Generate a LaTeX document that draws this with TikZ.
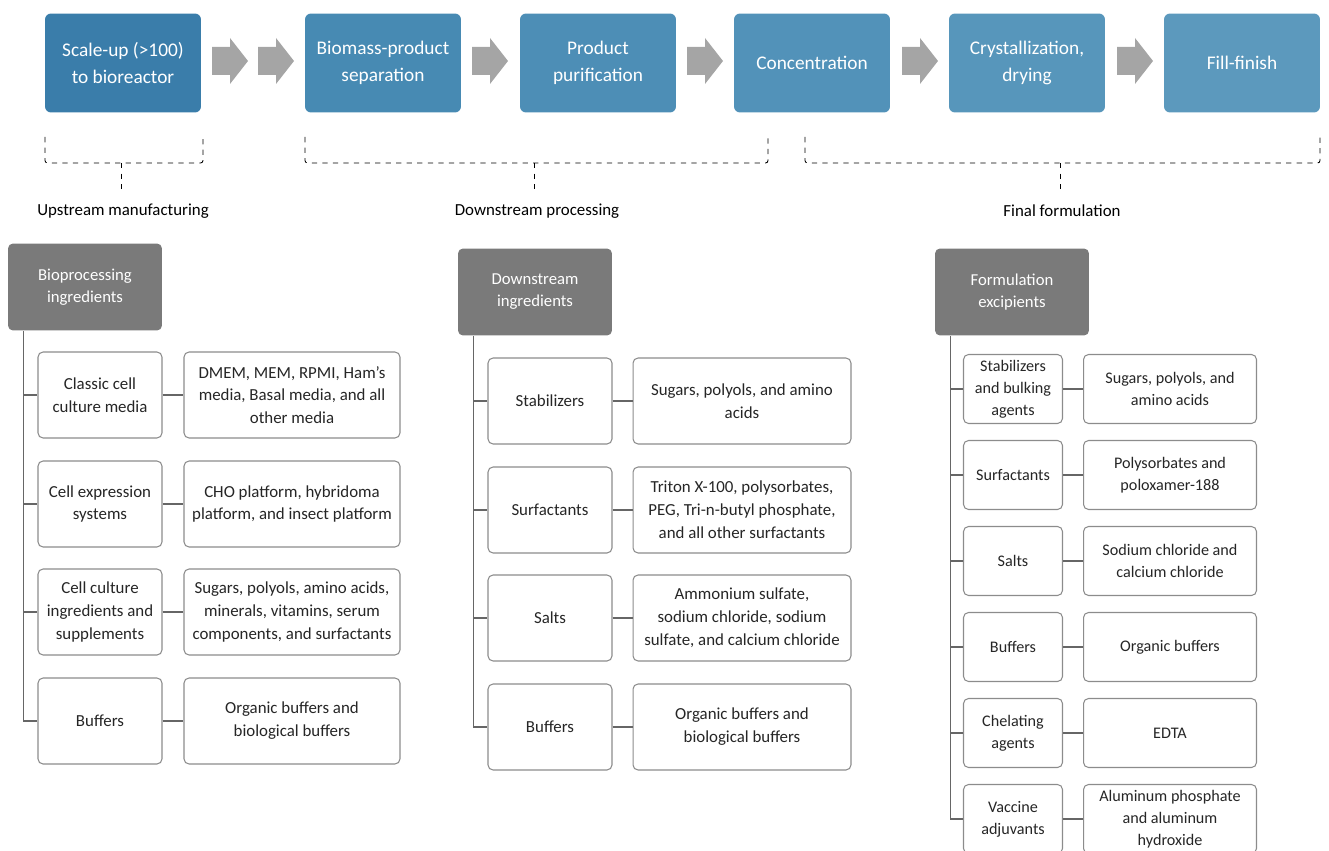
\documentclass[tikz,border=0pt]{standalone}
\usepackage{fontspec}
\setmainfont{Carlito}
\usepackage{xcolor}
\usepackage{tikz}
\definecolor{stepA}{HTML}{3A7DAA}
\definecolor{stepB}{HTML}{478AB3}
\definecolor{stepC}{HTML}{4D8EB6}
\definecolor{stepD}{HTML}{5292B9}
\definecolor{stepE}{HTML}{5796BB}
\definecolor{stepF}{HTML}{5C99BD}
\definecolor{headgray}{HTML}{7A7A7A}
\definecolor{arrowgray}{HTML}{A5A5A5}
\definecolor{linegray}{HTML}{8C8C8C}
\definecolor{treegray}{HTML}{666666}
\definecolor{textdark}{HTML}{262626}

\begin{document}
\begin{tikzpicture}[x=0.02cm,y=-0.02cm]
\tikzstyle{every node}+=[inner sep=0pt]
\tikzstyle{stage}=[rounded corners=0.12cm, minimum width=3.12cm, minimum height=1.98cm, text=white, align=center, font=\fontsize{11}{15.3}\selectfont]
\tikzstyle{head}=[fill=headgray, rounded corners=0.1cm, minimum width=3.08cm, minimum height=1.74cm, text=white, align=center, font=\fontsize{9.5}{12.6}\selectfont]
\tikzstyle{item}=[draw=linegray, fill=white, line width=0.6pt, rounded corners=0.1cm, minimum height=1.72cm, align=center, text=textdark, font=\fontsize{9.6}{13}\selectfont]
\tikzstyle{itemsm}=[item, minimum height=1.38cm, font=\fontsize{9.2}{12.4}\selectfont]
\tikzstyle{tree}=[draw=treegray, line width=0.7pt]
\tikzstyle{brace}=[dashed, line width=0.5pt, rounded corners=0.05cm]
\tikzstyle{phase}=[font=\fontsize{9.6}{11}\selectfont]
\useasboundingbox (0,0) rectangle (1329,851);
\clip (0,0) rectangle (1329,851);

\node[stage, fill=stepA] (s1) at (123,63) {Scale-up (>100)\\to bioreactor};
\node[stage, fill=stepB] (s2) at (383,63) {Biomass-product\\separation};
\node[stage, fill=stepC] (s3) at (598,63) {Product\\purification};
\node[stage, fill=stepD] (s4) at (812,63) {Concentration};
\node[stage, fill=stepE] (s5) at (1027,63) {Crystallization,\\drying};
\node[stage, fill=stepF] (s6) at (1242,63) {Fill-finish};
\foreach \x in {212,258,472,687,902,1117}
  \fill[arrowgray] (\x,47) -- (\x+18,47) -- (\x+18,38) -- (\x+36,61) -- (\x+18,84) -- (\x+18,75) -- (\x,75) -- cycle;

\coordinate (upL) at (45,137);
\coordinate (upR) at (203,137);
\coordinate (upM) at (121,163);
\coordinate (upT) at (121,189);
\draw[brace] (upL) |- (upM) -| (upR);
\draw[brace] (upM) -- (upT);
\node[phase] (pup) at (123,211) {Upstream manufacturing};

\coordinate (dnL) at (305,137);
\coordinate (dnR) at (768,137);
\coordinate (dnM) at (534,163);
\coordinate (dnT) at (534,189);
\draw[brace] (dnL) |- (dnM) -| (dnR);
\draw[brace] (dnM) -- (dnT);
\node[phase] (pdn) at (537,211) {Downstream processing};

\coordinate (fiL) at (805,137);
\coordinate (fiR) at (1320,137);
\coordinate (fiM) at (1060,163);
\coordinate (fiT) at (1060,189);
\draw[brace] (fiL) |- (fiM) -| (fiR);
\draw[brace] (fiM) -- (fiT);
\node[phase] (pfi) at (1062,211) {Final formulation};

\node[head] (hA) at (85,287) {Bioprocessing\\ingredients};
\node[head] (hB) at (535,292) {Downstream\\ingredients};
\node[head] (hC) at (1012,292) {Formulation\\excipients};

\node[item, minimum width=2.48cm] (lA1) at (100,395) {Classic cell\\culture media};
\node[item, minimum width=4.32cm] (rA1) at (292,395) {DMEM, MEM, RPMI, Ham’s\\media, Basal media, and all\\other media};
\node[item, minimum width=2.48cm] (lA2) at (100,504) {Cell expression\\systems};
\node[item, minimum width=4.32cm] (rA2) at (292,504) {CHO platform, hybridoma\\platform, and insect platform};
\node[item, minimum width=2.48cm] (lA3) at (100,612) {Cell culture\\ingredients and\\supplements};
\node[item, minimum width=4.32cm] (rA3) at (292,612) {Sugars, polyols, amino acids,\\minerals, vitamins, serum\\components, and surfactants};
\node[item, minimum width=2.48cm] (lA4) at (100,721) {Buffers};
\node[item, minimum width=4.32cm] (rA4) at (292,721) {Organic buffers and\\biological buffers};

\node[item, minimum width=2.48cm] (lB1) at (550,401) {Stabilizers};
\node[item, minimum width=4.36cm] (rB1) at (742,401) {Sugars, polyols, and amino\\acids};
\node[item, minimum width=2.48cm] (lB2) at (550,510) {Surfactants};
\node[item, minimum width=4.36cm] (rB2) at (742,510) {Triton X-100, polysorbates,\\PEG, Tri-n-butyl phosphate,\\and all other surfactants};
\node[item, minimum width=2.48cm] (lB3) at (550,618) {Salts};
\node[item, minimum width=4.36cm] (rB3) at (742,618) {Ammonium sulfate,\\sodium chloride, sodium\\sulfate, and calcium chloride};
\node[item, minimum width=2.48cm] (lB4) at (550,727) {Buffers};
\node[item, minimum width=4.36cm] (rB4) at (742,727) {Organic buffers and\\biological buffers};

\node[itemsm, minimum width=1.98cm] (lC1) at (1013,389) {Stabilizers\\and bulking\\agents};
\node[itemsm, minimum width=3.46cm] (rC1) at (1170,389) {Sugars, polyols, and\\amino acids};
\node[itemsm, minimum width=1.98cm] (lC2) at (1013,475) {Surfactants};
\node[itemsm, minimum width=3.46cm] (rC2) at (1170,475) {Polysorbates and\\poloxamer-188};
\node[itemsm, minimum width=1.98cm] (lC3) at (1013,561) {Salts};
\node[itemsm, minimum width=3.46cm] (rC3) at (1170,561) {Sodium chloride and\\calcium chloride};
\node[itemsm, minimum width=1.98cm] (lC4) at (1013,647) {Buffers};
\node[itemsm, minimum width=3.46cm] (rC4) at (1170,647) {Organic buffers};
\node[itemsm, minimum width=1.98cm] (lC5) at (1013,733) {Chelating\\agents};
\node[itemsm, minimum width=3.46cm] (rC5) at (1170,733) {EDTA};
\node[itemsm, minimum width=1.98cm] (lC6) at (1013,819) {Vaccine\\adjuvants};
\node[itemsm, minimum width=3.46cm] (rC6) at (1170,819) {Aluminum phosphate\\and aluminum\\hydroxide};

\coordinate (tA) at ([xshift=0.32cm]hA.south west);
\draw[tree] (tA) |- (lA4.west);
\foreach \i in {1,2,3} \draw[tree] (tA |- lA\i.west) -- (lA\i.west);
\foreach \i in {1,...,4} \draw[tree] (lA\i) -- (rA\i);

\coordinate (tB) at ([xshift=0.32cm]hB.south west);
\draw[tree] (tB) |- (lB4.west);
\foreach \i in {1,2,3} \draw[tree] (tB |- lB\i.west) -- (lB\i.west);
\foreach \i in {1,...,4} \draw[tree] (lB\i) -- (rB\i);

\coordinate (tC) at ([xshift=0.32cm]hC.south west);
\draw[tree] (tC) |- (lC6.west);
\foreach \i in {1,...,5} \draw[tree] (tC |- lC\i.west) -- (lC\i.west);
\foreach \i in {1,...,6} \draw[tree] (lC\i) -- (rC\i);
\end{tikzpicture}
\end{document}
